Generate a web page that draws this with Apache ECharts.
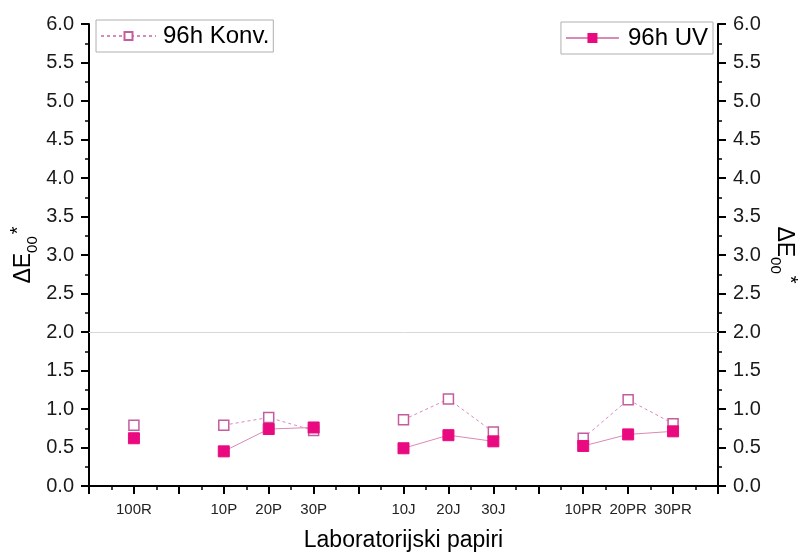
<!DOCTYPE html>
<html>
<head>
<meta charset="utf-8">
<script src="https://cdn.jsdelivr.net/npm/echarts@6/dist/echarts.min.js"></script>
<style>html,body{margin:0;padding:0;background:#fff}#c{width:800px;height:556px}</style>
</head>
<body>
<div id="c"></div>
<script>
const categories = ['', '100R', '', '10P', '20P', '30P', '', '10J', '20J', '30J', '', '10PR', '20PR', '30PR', ''];
const konv = [null, 0.79, null, 0.79, 0.89, 0.72, null, 0.86, 1.13, 0.70, null, 0.62, 1.12, 0.81, null];
const uv   = [null, 0.62, null, 0.45, 0.74, 0.76, null, 0.49, 0.66, 0.58, null, 0.52, 0.67, 0.71, null];
const seriesNames = ['96h Konv.', '96h UV'];
const yTicks = [0, 6, 0.5];

const FONT = 'Liberation Sans, Arial, sans-serif';
const toData = arr => arr.map((v, i) => [i, v == null ? '-' : v]);
const titleRich = {
  a: {fontSize: 23, fontFamily: FONT, color: '#000', lineHeight: 32, verticalAlign: 'middle'},
  s: {fontSize: 15, fontFamily: FONT, color: '#000', lineHeight: 32, verticalAlign: 'bottom', padding: [12, 0, 0, 0]},
  t: {fontSize: 20, fontFamily: FONT, color: '#000', lineHeight: 32, verticalAlign: 'top', padding: [0, 0, 4, 2]}
};
const yAxisBase = (pos) => ({
  type: 'value', position: pos, min: yTicks[0], max: yTicks[1], interval: yTicks[2],
  axisLine: {show: true, lineStyle: {color: '#000', width: 2}},
  axisTick: {show: true, inside: false, length: 8, lineStyle: {color: '#000', width: 2}},
  minorTick: {show: true, splitNumber: 2, length: 4, lineStyle: {color: '#000', width: 1.5}},
  splitLine: {show: false},
  axisLabel: {fontSize: 20, fontFamily: FONT, color: '#1a1a1a', margin: 15, formatter: v => v.toFixed(1)},
  name: '{a|ΔE}{s|00}{t|*}', nameLocation: 'middle', nameMoveOverlap: false,
  nameRotate: pos === 'left' ? 90 : -90, nameGap: pos === 'left' ? 49 : 50,
  nameTextStyle: {rich: titleRich}
});

const chart = echarts.init(document.getElementById('c'), null, {renderer: 'canvas'});
chart.setOption({
  backgroundColor: '#fff',
  animation: false,
  grid: {left: 89, right: 82, top: 24, bottom: 70, outerBoundsMode: 'none', containLabel: false},
  legend: [
    {data: [seriesNames[0]], left: 96, top: 20, orient: 'horizontal', itemWidth: 55, itemHeight: 10,
     borderColor: '#b0b0b0', borderWidth: 1, padding: [4, 4, 4, 4], itemGap: 4,
     textStyle: {fontSize: 24, fontFamily: FONT, color: '#000', padding: [0, 0, 0, 2]}},
    {data: [seriesNames[1]], right: 87, top: 22, orient: 'horizontal', itemWidth: 53, itemHeight: 10,
     borderColor: '#b0b0b0', borderWidth: 1, padding: [4, 5, 4, 4], itemGap: 4,
     textStyle: {fontSize: 24, fontFamily: FONT, color: '#000', padding: [0, 0, 0, 4]}}
  ],
  xAxis: {
    type: 'value', min: 0, max: categories.length - 1, interval: 1,
    axisLine: {show: true, lineStyle: {color: '#000', width: 2}},
    axisTick: {show: true, length: 8, lineStyle: {color: '#000', width: 2}},
    minorTick: {show: true, splitNumber: 2, length: 4, lineStyle: {color: '#000', width: 1.5}},
    splitLine: {show: false},
    axisLabel: {fontSize: 15, fontFamily: FONT, color: '#222', margin: 16, showMinLabel: true, showMaxLabel: true,
      formatter: v => categories[v] || ''},
    name: 'Laboratorijski papiri', nameLocation: 'middle', nameGap: 43,
    nameTextStyle: {fontSize: 23, fontFamily: FONT, color: '#000'}
  },
  yAxis: [yAxisBase('left'), yAxisBase('right')],
  series: [
    {name: seriesNames[0], type: 'line', yAxisIndex: 0, data: toData(konv), connectNulls: false,
     symbol: 'rect', symbolSize: 10,
     itemStyle: {color: '#fff', borderColor: '#C45CA0', borderWidth: 1.5},
     lineStyle: {color: '#D889BE', width: 1, type: [3, 3]},
     markLine: {silent: true, symbol: 'none', label: {show: false},
       lineStyle: {color: '#d8d8d8', width: 1, type: 'solid'}, data: [{yAxis: 2}]},
     z: 3},
    {name: seriesNames[1], type: 'line', yAxisIndex: 0, data: toData(uv), connectNulls: false,
     symbol: 'rect', symbolSize: 11,
     itemStyle: {color: '#E90A80', borderColor: '#E90A80', borderWidth: 1},
     lineStyle: {color: '#D98AB5', width: 1, type: 'solid'},
     z: 4}
  ]
});
</script>
</body>
</html>
